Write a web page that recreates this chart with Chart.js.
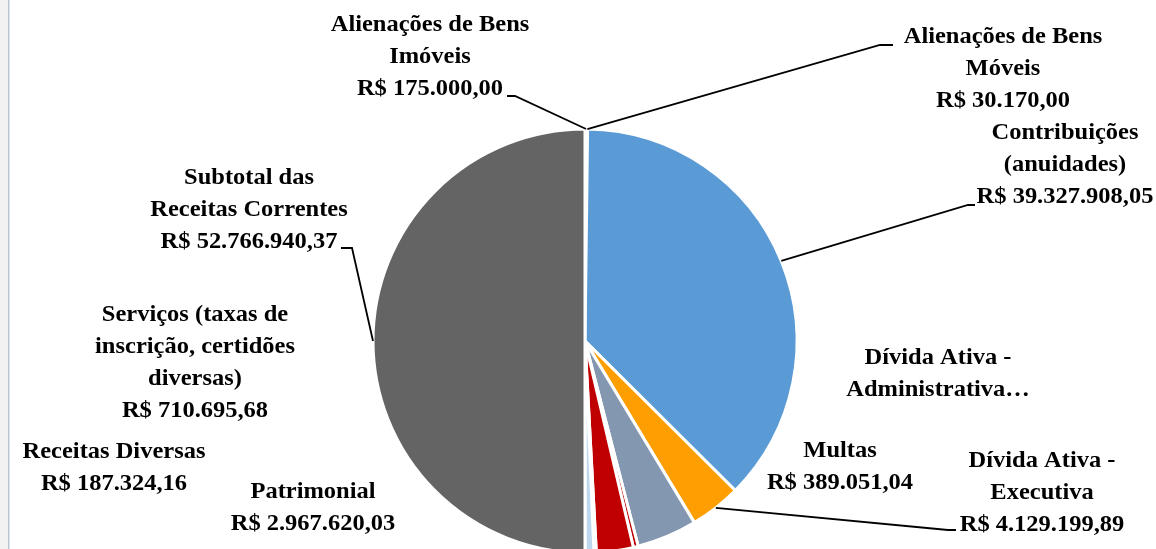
<!DOCTYPE html>
<html>
<head>
<meta charset="utf-8">
<script src="https://cdn.jsdelivr.net/npm/chart.js@4"></script>
<style>
    html, body { margin: 0; padding: 0; background: #ffffff; overflow: hidden; }
    #wrap { width: 1156px; height: 549px; }
</style>
</head>
<body>
<div id="wrap"><canvas id="receitasChart" width="1156" height="549"></canvas></div>
<script>
// categories in the order the slices run, clockwise from the top
const categories = [
    "Alienações de Bens Imóveis",
    "Alienações de Bens Móveis",
    "Contribuições (anuidades)",
    "Dívida Ativa - Executiva",
    "Dívida Ativa - Administrativa",
    "Multas",
    "Patrimonial",
    "Receitas Diversas",
    "Serviços (taxas de inscrição, certidões diversas)",
    "Subtotal das Receitas Correntes"
];
const values = [175000.00, 30170.00, 39327908.05, 4129199.89, 4849971.52, 389051.04, 2967620.03, 187324.16, 710695.68, 52766940.37];
const sliceColors = ["#a5a5a5", "#ffc000", "#5b9bd5", "#ff9e00", "#8497b0", "#c00000", "#c00000", "#c9a27e", "#bdd7ee", "#646464"];

// how each name is broken over lines in its label
const nameLines = [
    ["Alienações de Bens", "Imóveis"],
    ["Alienações de Bens", "Móveis"],
    ["Contribuições", "(anuidades)"],
    ["Dívida Ativa -", "Executiva"],
    ["Dívida Ativa -", "Administrativa…"],
    ["Multas"],
    ["Patrimonial"],
    ["Receitas Diversas"],
    ["Serviços (taxas de", "inscrição, certidões", "diversas)"],
    ["Subtotal das", "Receitas Correntes"]
];
const showValue = [true, true, true, true, false, true, true, true, true, true];

function formatBRL(value) {
    const parts = Number(value).toFixed(2).split(".");
    const intPart = parts[0].replace(/\B(?=(\d{3})+(?!\d))/g, ".");
    return "R$ " + intPart + "," + parts[1];
}

// label placement: centre x, centre y of first line, optional leader (elbow, stub end)
const labelLayout = [
    { x: 430, y: 25, elbow: [515, 96], stub: [507, 96] },
    { x: 1003, y: 37, elbow: [880, 45], stub: [893, 45] },
    { x: 1065, y: 133, elbow: [968, 205], stub: [975, 205] },
    { x: 1042, y: 461, elbow: [948, 530], stub: [956, 530] },
    { x: 938, y: 358 },
    { x: 840, y: 451 },
    { x: 313, y: 492 },
    { x: 114, y: 452 },
    { x: 195, y: 315 },
    { x: 249, y: 178, elbow: [352, 248], stub: [341, 248] }
];
const lineHeight = 32;
const textStretch = 1.02;

const sideStrip = {
    id: "sideStrip",
    beforeDraw(chart) {
        const ctx = chart.ctx;
        ctx.save();
        ctx.fillStyle = "#f3f2f3";
        ctx.fillRect(0, 0, 8, chart.height);
        ctx.fillStyle = "#b8c4d6";
        ctx.fillRect(8, 0, 1.5, chart.height);
        ctx.restore();
    }
};

const pieLabels = {
    id: "pieLabels",
    afterDraw(chart) {
        const ctx = chart.ctx;
        const arcs = chart.getDatasetMeta(0).data;
        ctx.save();
        ctx.strokeStyle = "#000000";
        ctx.lineWidth = 1.8;
        labelLayout.forEach((lay, i) => {
            if (!lay.elbow) return;
            const arc = arcs[i];
            const mid = (arc.startAngle + arc.endAngle) / 2;
            const px = arc.x + Math.cos(mid) * arc.outerRadius;
            const py = arc.y + Math.sin(mid) * arc.outerRadius;
            ctx.beginPath();
            ctx.moveTo(px, py);
            ctx.lineTo(lay.elbow[0], lay.elbow[1]);
            ctx.lineTo(lay.stub[0], lay.stub[1]);
            ctx.stroke();
        });
        ctx.fillStyle = "#000000";
        ctx.font = "bold 24px 'Liberation Serif', 'DejaVu Serif', serif";
        ctx.textAlign = "center";
        ctx.textBaseline = "middle";
        labelLayout.forEach((lay, i) => {
            const lines = nameLines[i].slice();
            if (showValue[i]) lines.push(formatBRL(values[i]));
            lines.forEach((line, k) => {
                ctx.save();
                ctx.translate(lay.x, lay.y + k * lineHeight);
                ctx.scale(textStretch, 1);
                ctx.fillText(line, 0, 0);
                ctx.restore();
            });
        });
        ctx.restore();
    }
};

new Chart(document.getElementById("receitasChart"), {
    type: "pie",
    data: {
        labels: categories,
        datasets: [
            {
                data: values,
                backgroundColor: sliceColors,
                borderColor: "#ffffff",
                borderWidth: 3
            }
        ]
    },
    options: {
        responsive: false,
        animation: false,
        devicePixelRatio: 1,
        radius: 212,
        layout: {
            padding: { left: 14, right: 0, top: 133, bottom: 0 }
        },
        plugins: {
            legend: { display: false },
            tooltip: { enabled: false }
        }
    },
    plugins: [sideStrip, pieLabels]
});
</script>
</body>
</html>
